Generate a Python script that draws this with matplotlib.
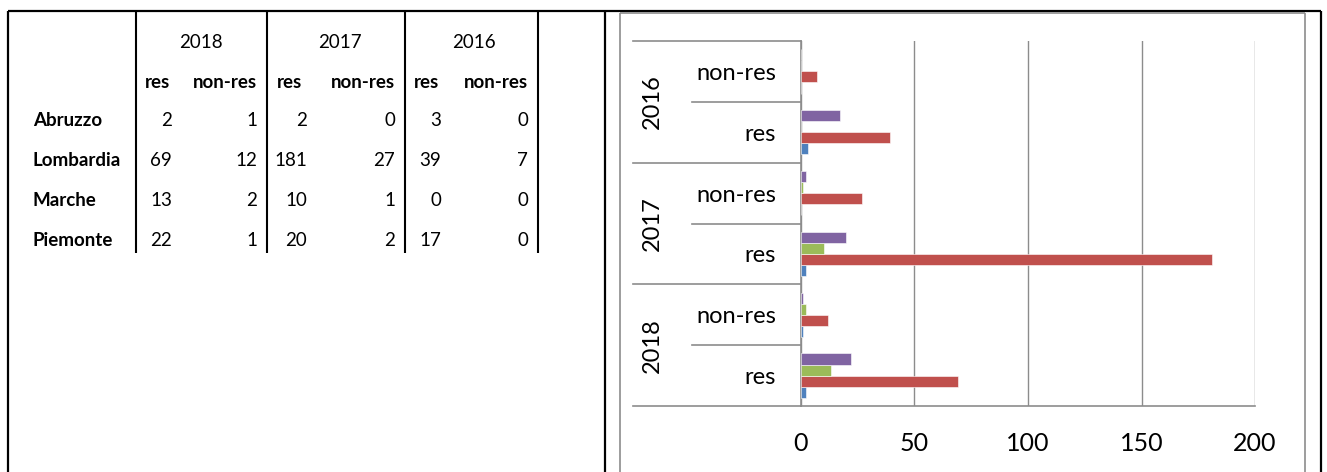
import matplotlib
matplotlib.use("Agg")
import matplotlib.pyplot as plt
from matplotlib.lines import Line2D
from matplotlib.transforms import blended_transform_factory
import numpy as np

# ---- data (from the table / chart) ----
regions = ["Abruzzo", "Lombardia", "Marche", "Piemonte"]
years = ["2018", "2017", "2016"]
res_2018 = [2, 69, 13, 22]
nonres_2018 = [1, 12, 2, 1]
res_2017 = [2, 181, 10, 20]
nonres_2017 = [0, 27, 1, 2]
res_2016 = [3, 39, 0, 17]
nonres_2016 = [0, 7, 0, 0]
kinds = ["res", "non-res"]
x_ticks = [0, 50, 100, 150, 200]

colors = ["#4F81BD", "#C0504D", "#9BBB59", "#8064A2"]
FONT = "Lato"
GRAY = "#8C8C8C"
TFS = 13.5  # table font size

W, H = 1327, 472
fig = plt.figure(figsize=(W / 100, H / 100), dpi=100)
fig.patch.set_facecolor("white")

def fx(px):
    return px / W

def fy(py):
    return 1 - py / H

def line(x1, y1, x2, y2, color="black", lw=1.5):
    fig.add_artist(Line2D([fx(x1), fx(x2)], [fy(y1), fy(y2)],
                          transform=fig.transFigure, color=color, lw=lw,
                          solid_capstyle="butt"))

# ---- outer frame ----
line(7.5, 11, 1321, 11, lw=1.6)
line(7.5, 11, 7.5, H, lw=1.6)
line(605, 11, 605, H, lw=1.6)
line(1321, 11, 1321, H, lw=1.6)
# chart area border
line(620, 12.5, 1305, 12.5, color=GRAY, lw=1.2)
line(620, 12.5, 620, H, color=GRAY, lw=1.2)
line(1305, 12.5, 1305, H, color=GRAY, lw=1.2)

# ---- table on the left ----
for xv in [136, 267, 405, 538]:
    line(xv, 12, xv, 253, lw=1.5)

table_cols = [(res_2018, nonres_2018), (res_2017, nonres_2017), (res_2016, nonres_2016)]
year_cx = [201, 340, 474]
res_hdr_cx = [158, 290, 427]
res_right = [172, 307, 441]
non_right = [257, 395, 528]
row_y = [121, 160, 200, 240]

for j, yr in enumerate(years):
    fig.text(fx(year_cx[j]), fy(43), yr, ha="center", va="center",
             fontsize=TFS, family=FONT)
    fig.text(fx(res_hdr_cx[j]), fy(82), "res", ha="center", va="center",
             fontsize=TFS, family=FONT, fontweight="bold")
    fig.text(fx(non_right[j]), fy(82), "non-res", ha="right", va="center",
             fontsize=TFS, family=FONT, fontweight="bold")
    rv, nv = table_cols[j]
    for i in range(len(regions)):
        fig.text(fx(res_right[j]), fy(row_y[i]), str(rv[i]), ha="right",
                 va="center", fontsize=TFS, family=FONT)
        fig.text(fx(non_right[j]), fy(row_y[i]), str(nv[i]), ha="right",
                 va="center", fontsize=TFS, family=FONT)

for i, r in enumerate(regions):
    fig.text(fx(33), fy(row_y[i]), r, ha="left", va="center",
             fontsize=TFS, family=FONT, fontweight="bold")

# ---- bar chart on the right ----
ax = fig.add_axes([fx(801), fy(406), (1255 - 801) / W, (406 - 41) / H])

# categories bottom -> top
cat_vals = [res_2018, nonres_2018, res_2017, nonres_2017, res_2016, nonres_2016]
cat_labels = ["res", "non-res"] * 3
y = np.arange(len(cat_vals))
h = 1 / 5.5
for k in range(len(regions)):
    vals = [cv[k] for cv in cat_vals]
    ax.barh(y + (k - 1.5) * h, vals, h, color=colors[k],
            edgecolor="white", linewidth=0.4, zorder=3)

ax.set_xlim(0, 200)
ax.set_ylim(-0.5, 5.5)
ax.set_xticks(x_ticks)
ax.set_xticklabels([str(v) for v in x_ticks], fontsize=18, family=FONT)
ax.set_yticks(y)
ax.set_yticklabels(cat_labels, fontsize=17, family=FONT)
ax.tick_params(axis="both", length=0)
ax.tick_params(axis="y", pad=18)
ax.tick_params(axis="x", pad=19)
ax.grid(axis="x", color=GRAY, lw=1.0, zorder=0)
ax.grid(axis="y", visible=False)
for s in ["top", "right"]:
    ax.spines[s].set_visible(False)
for s in ["left", "bottom"]:
    ax.spines[s].set_color(GRAY)
    ax.spines[s].set_linewidth(1.2)

# category separators left of the axis
tr = blended_transform_factory(ax.transAxes, ax.transData)
x_year = (633 - 801) / (1255 - 801)
x_kind = (692 - 801) / (1255 - 801)
for yb in [-0.5, 1.5, 3.5, 5.5]:
    ax.plot([x_year, 0], [yb, yb], transform=tr, color=GRAY, lw=1.2,
            clip_on=False)
for yb in [0.5, 2.5, 4.5]:
    ax.plot([x_kind, 0], [yb, yb], transform=tr, color=GRAY, lw=1.2,
            clip_on=False)

x_year_lbl = (652 - 801) / (1255 - 801)
for j, yr in enumerate(years):
    ax.text(x_year_lbl, 2 * j + 0.5, yr, transform=tr, rotation=90,
            ha="center", va="center", fontsize=17, family=FONT)

fig.savefig("out.png", dpi=100, facecolor="white")
